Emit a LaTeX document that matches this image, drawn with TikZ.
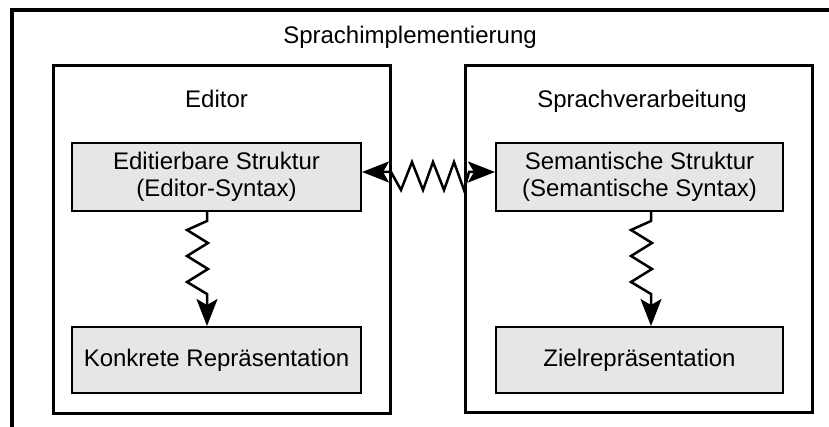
\documentclass[tikz,border=0pt]{standalone}
\usepackage{fontspec}
\setmainfont{Liberation Sans}
\usetikzlibrary{arrows.meta,calc,positioning}
\definecolor{boxgray}{RGB}{230,230,230}
\tikzset{%
	outerbox/.style  = {draw, rectangle, line width=3.5pt}, % Sprachimplementierung
	container/.style = {draw, rectangle, line width=3pt}, % Editor, Sprachverarbeitung
	entity/.style    = {draw, rectangle, line width=2pt, fill=boxgray, align=center, minimum height=68},
	label/.style     = {anchor=base},
	squiggle/.style  = {line width=2.5pt, miter limit=20},
	fat/.tip         = {Stealth[length=27pt,width=21pt,inset=6pt]},
}

\begin{document}
\begin{tikzpicture}[x=1pt, y=-1pt, font=\fontsize{24}{27}\selectfont]
	\useasboundingbox (0,0) rectangle (829,427);
	\node[outerbox, minimum width=833, minimum height=435] (impl) at (428.5,227.5) {};
	\node[label] (impltitle) at (410,44) {Sprachimplementierung};
	\node[container, minimum width=337, minimum height=347] (ed) at (221.5,239.5) {};
	\node[container, minimum width=347, minimum height=346] (sv) at (638.5,239) {};
	\node[label] (edtitle) at (216.5,108) {Editor};
	\node[label] (svtitle) at (642,108) {Sprachverarbeitung};
	\node[entity, minimum width=289] (es) at (216.5,177) {Editierbare Struktur\\(Editor-Syntax)};
	\node[entity, minimum width=287] (ss) at (639.5,177) {Semantische Struktur\\(Semantische Syntax)};
	\node[entity, minimum width=289, minimum height=66] (kr) at (216.5,360) {Konkrete Repräsentation};
	\node[entity, minimum width=287, minimum height=66] (zr) at (639.5,360) {Zielrepräsentation};
	% Struktur -> Darstellung
	\draw[squiggle, -fat] ($(es.south)+(-9.5,0)$) -- ++(0,9) -- ++(-20,9) -- ++(21,13) -- ++(-21,13)
		-- ++(21,13) -- ++(-21,13) -- ++(20,12) -- ($(kr.north)+(-9.5,0)$);
	\draw[squiggle, -fat] ($(ss.south)+(11.5,0)$) -- ++(0,9) -- ++(-20,9) -- ++(21,13) -- ++(-21,13)
		-- ++(21,13) -- ++(-21,13) -- ++(20,12) -- ($(zr.north)+(11.5,0)$);
	% Editor <-> Sprachverarbeitung
	\draw[squiggle, fat-fat] ($(es.east)+(0,-5)$) -- ++(29,0)
		-- ++(10,18) -- ++(11,-28) -- ++(11,28) -- ++(10,-28) -- ++(11,28) -- ++(10,-28)
		-- ++(10,28) -- ++(5,-18) -- ($(ss.west)+(0,-5)$);
\end{tikzpicture}
\end{document}
